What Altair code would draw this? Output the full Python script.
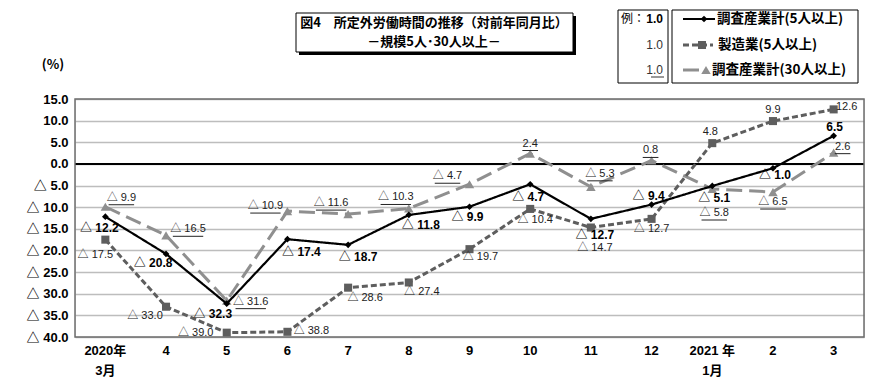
import altair as alt
import pandas as pd

# ---- data ----
month_keys = ["2020-03", "2020-04", "2020-05", "2020-06", "2020-07", "2020-08", "2020-09",
              "2020-10", "2020-11", "2020-12", "2021-01", "2021-02", "2021-03"]
month_labels = ["2020年\n3月", "4", "5", "6", "7", "8", "9", "10", "11", "12", "2021 年\n1月", "2", "3"]
series_names = ["調査産業計(5人以上)", "製造業(5人以上)", "調査産業計(30人以上)"]
s1 = [-12.2, -20.8, -32.3, -17.4, -18.7, -11.8, -9.9, -4.7, -12.7, -9.4, -5.1, -1.0, 6.5]
s2 = [-17.5, -33.0, -39.0, -38.8, -28.6, -27.4, -19.7, -10.4, -14.7, -12.7, 4.8, 9.9, 12.6]
s3 = [-9.9, -16.5, -31.6, -10.9, -11.6, -10.3, -4.7, 2.4, -5.3, 0.8, -5.8, -6.5, 2.6]

# label placement (pixel offsets from each point)
s1_dx = [-6, -13, -14, 14, 10, 12, -2, -2, 4, -3, 2, 2, 1]
s1_dy = [11, 9, 10, 13, 12, 10, 10, 13, 16, -9, 12, 7, -9]
s2_dx = [-10, -21, -31, 24, 17, 13, 11, 5, 4, 0, -2, 0, 13]
s2_dy = [15, 9, 0, -1, 10, 10, 8, 11, 20, 10, -11, -11, -2]
s3_dx = [16, 22, 24, -22, -17, -13, -22, 0, 9, -1, 2, 0, 9]
s3_dy = [-9, -6, 1, -5, -11, -11, -8, -10, -13, -10, 24, 10, -6]

W, H = 789, 238
YMIN, YMAX = -40, 15
XMIN, XMAX = -0.5, 12.5
PX_X = W / (XMAX - XMIN)   # pixels per month
PX_Y = H / (YMAX - YMIN)   # pixels per percent

JP = "Noto Sans CJK JP"
NUM = "Liberation Sans, Noto Sans CJK JP"
NARROW = "Liberation Sans Narrow, Liberation Sans, Noto Sans CJK JP"


def lab(v):
    return ("△ " + f"{abs(v):.1f}") if v < 0 else f"{v:.1f}"


rows = []
for name, vals, dxs, dys in zip(series_names, [s1, s2, s3], [s1_dx, s2_dx, s3_dx], [s1_dy, s2_dy, s3_dy]):
    for i, (v, dx, dy) in enumerate(zip(vals, dxs, dys)):
        t = lab(v)
        hw = (4.9 * len(t) + 1) / 2
        rows.append({"series": name, "idx": i, "value": v, "label": t,
                     "lx": i + dx / PX_X, "ly": v - dy / PX_Y,
                     "ux1": i + (dx - hw) / PX_X, "ux2": i + (dx + hw) / PX_X,
                     "uy": v - (dy + 7) / PX_Y})
df = pd.DataFrame(rows)

xscale = alt.Scale(domain=[XMIN, XMAX], nice=False, zero=False)
yscale = alt.Scale(domain=[YMIN, YMAX], nice=False, zero=False)

yaxis = alt.Axis(values=list(range(-40, 20, 5)), title=None, ticks=False, domain=False,
                 labelExpr="datum.value < 0 ? '△ ' + format(-datum.value, '.1f') : format(datum.value, '.1f')",
                 labelFont=NUM, labelFontSize=13, labelFontWeight="bold", labelColor="#000",
                 labelPadding=7, labelOverlap=False, grid=True, gridColor="#bdbdbd", gridWidth=1.5)


def X(f):
    return alt.X(f, scale=xscale, axis=None)


def Y(f):
    return alt.Y(f, scale=yscale, axis=yaxis)


base = alt.Chart(df).encode(x=X("idx:Q"), y=Y("value:Q"))

styles = {
    series_names[0]: dict(color="#000000", dash=[1, 0], width=2.2, shape="diamond", size=45),
    series_names[1]: dict(color="#5e5e5e", dash=[6, 3], width=3, shape="square", size=65),
    series_names[2]: dict(color="#8f8f8f", dash=[16, 7], width=3, shape="triangle-up", size=90),
}

layers = [base.mark_point(opacity=0)]
# zero line
layers.append(alt.Chart(pd.DataFrame({"z": [0]})).mark_rule(color="#000", strokeWidth=2)
              .encode(y=Y("z:Q"), x=alt.value(0), x2=alt.value(W)))

for name in [series_names[2], series_names[1], series_names[0]]:
    st = styles[name]
    sub = base.transform_filter(alt.datum.series == name)
    layers.append(sub.mark_line(color=st["color"], strokeDash=st["dash"], strokeWidth=st["width"]))
    layers.append(sub.mark_point(shape=st["shape"], size=st["size"], filled=True, opacity=1, color=st["color"]))


# data labels
def label_layer(name, weight, color, size):
    return alt.Chart(df).transform_filter(alt.datum.series == name).mark_text(
        font=NARROW, fontSize=size, fontWeight=weight, color=color, baseline="middle").encode(
        x=X("lx:Q"), y=Y("ly:Q"), text="label:N")


layers.append(label_layer(series_names[0], "bold", "#000", 12))
layers.append(label_layer(series_names[1], "normal", "#222", 11))
layers.append(label_layer(series_names[2], "normal", "#222", 11))
layers.append(alt.Chart(df).transform_filter(alt.datum.series == series_names[2]).mark_rule(
    color="#222", strokeWidth=1).encode(x=X("ux1:Q"), x2="ux2:Q", y=Y("uy:Q")))

# x axis labels
xl = pd.DataFrame({"idx": list(range(len(month_keys))), "xlab": month_labels})
layers.append(alt.Chart(xl).mark_text(font=NUM, fontSize=13, fontWeight="bold", color="#000",
                                      baseline="top", lineBreak="\n", lineHeight=20)
              .encode(x=X("idx:Q"), y=alt.value(H + 8), text="xlab:N"))

one = pd.DataFrame({"a": [0]})


def rect(x1, x2, y1, y2, fill, stroke=None, sw=1):
    kw = dict(fill=fill)
    if stroke:
        kw.update(stroke=stroke, strokeWidth=sw)
    return alt.Chart(one).mark_rect(**kw).encode(x=alt.value(x1), x2=alt.value(x2), y=alt.value(y1), y2=alt.value(y2))


def txt(x, y, s, align="left", size=13, weight="normal", font=JP, color="#000"):
    return alt.Chart(one).mark_text(text=s, align=align, baseline="middle", fontSize=size,
                                    fontWeight=weight, font=font, color=color).encode(x=alt.value(x), y=alt.value(y))


# plot border
layers.append(rect(0, W, 0, H, "transparent", "#6e6e6e", 1.5))

# title box
layers.append(rect(224, 501, -83, -44, "#000"))
layers.append(rect(221, 498, -86, -47, "#fff", "#000", 1))
layers.append(txt(359, -76, "図4　所定外労働時間の推移（対前年同月比）", "center", 13, "bold"))
layers.append(txt(359, -57, "－規模5人･30人以上－", "center", 13, "bold"))
layers.append(txt(-22, -34, "(%)", "center", 13, "bold"))

# legend example box
layers.append(rect(543, 593, -89, -16, "#fff", "#000", 1))
layers.append(txt(570, -80, "例：", "right", 12))
layers.append(txt(588, -80, "1.0", "right", 12, "bold", NUM))
layers.append(txt(588, -54, "1.0", "right", 12, "normal", NARROW, "#333"))
layers.append(txt(588, -29, "1.0", "right", 12, "normal", NARROW, "#333"))
layers.append(alt.Chart(one).mark_rule(color="#333").encode(x=alt.value(576), x2=alt.value(589), y=alt.value(-22)))

# main legend box
layers.append(rect(597, 783, -89, -16, "#fff", "#000", 1))
for name, ly, lx1, lx2, mx, tx in [(series_names[0], -80, 608, 640, 629, 642),
                                   (series_names[1], -54, 608, 638, 627, 643),
                                   (series_names[2], -29, 608, 632, 631, 637)]:
    st = styles[name]
    layers.append(alt.Chart(one).mark_rule(color=st["color"], strokeDash=st["dash"], strokeWidth=st["width"])
                  .encode(x=alt.value(lx1), x2=alt.value(lx2), y=alt.value(ly)))
    layers.append(alt.Chart(one).mark_point(shape=st["shape"], size=st["size"], filled=True, opacity=1, color=st["color"])
                  .encode(x=alt.value(mx), y=alt.value(ly)))
    layers.append(txt(tx, ly, name, "left", 13.5, "bold"))

chart = alt.layer(*layers).properties(
    width=W, height=H,
    autosize=alt.AutoSizeParams(type="none"),
    padding={"left": 67, "top": 91, "right": 10, "bottom": 40},
).configure_view(stroke=None).configure(background="#ffffff")

chart.save("out.html", embed_options={"renderer": "svg", "actions": False})
